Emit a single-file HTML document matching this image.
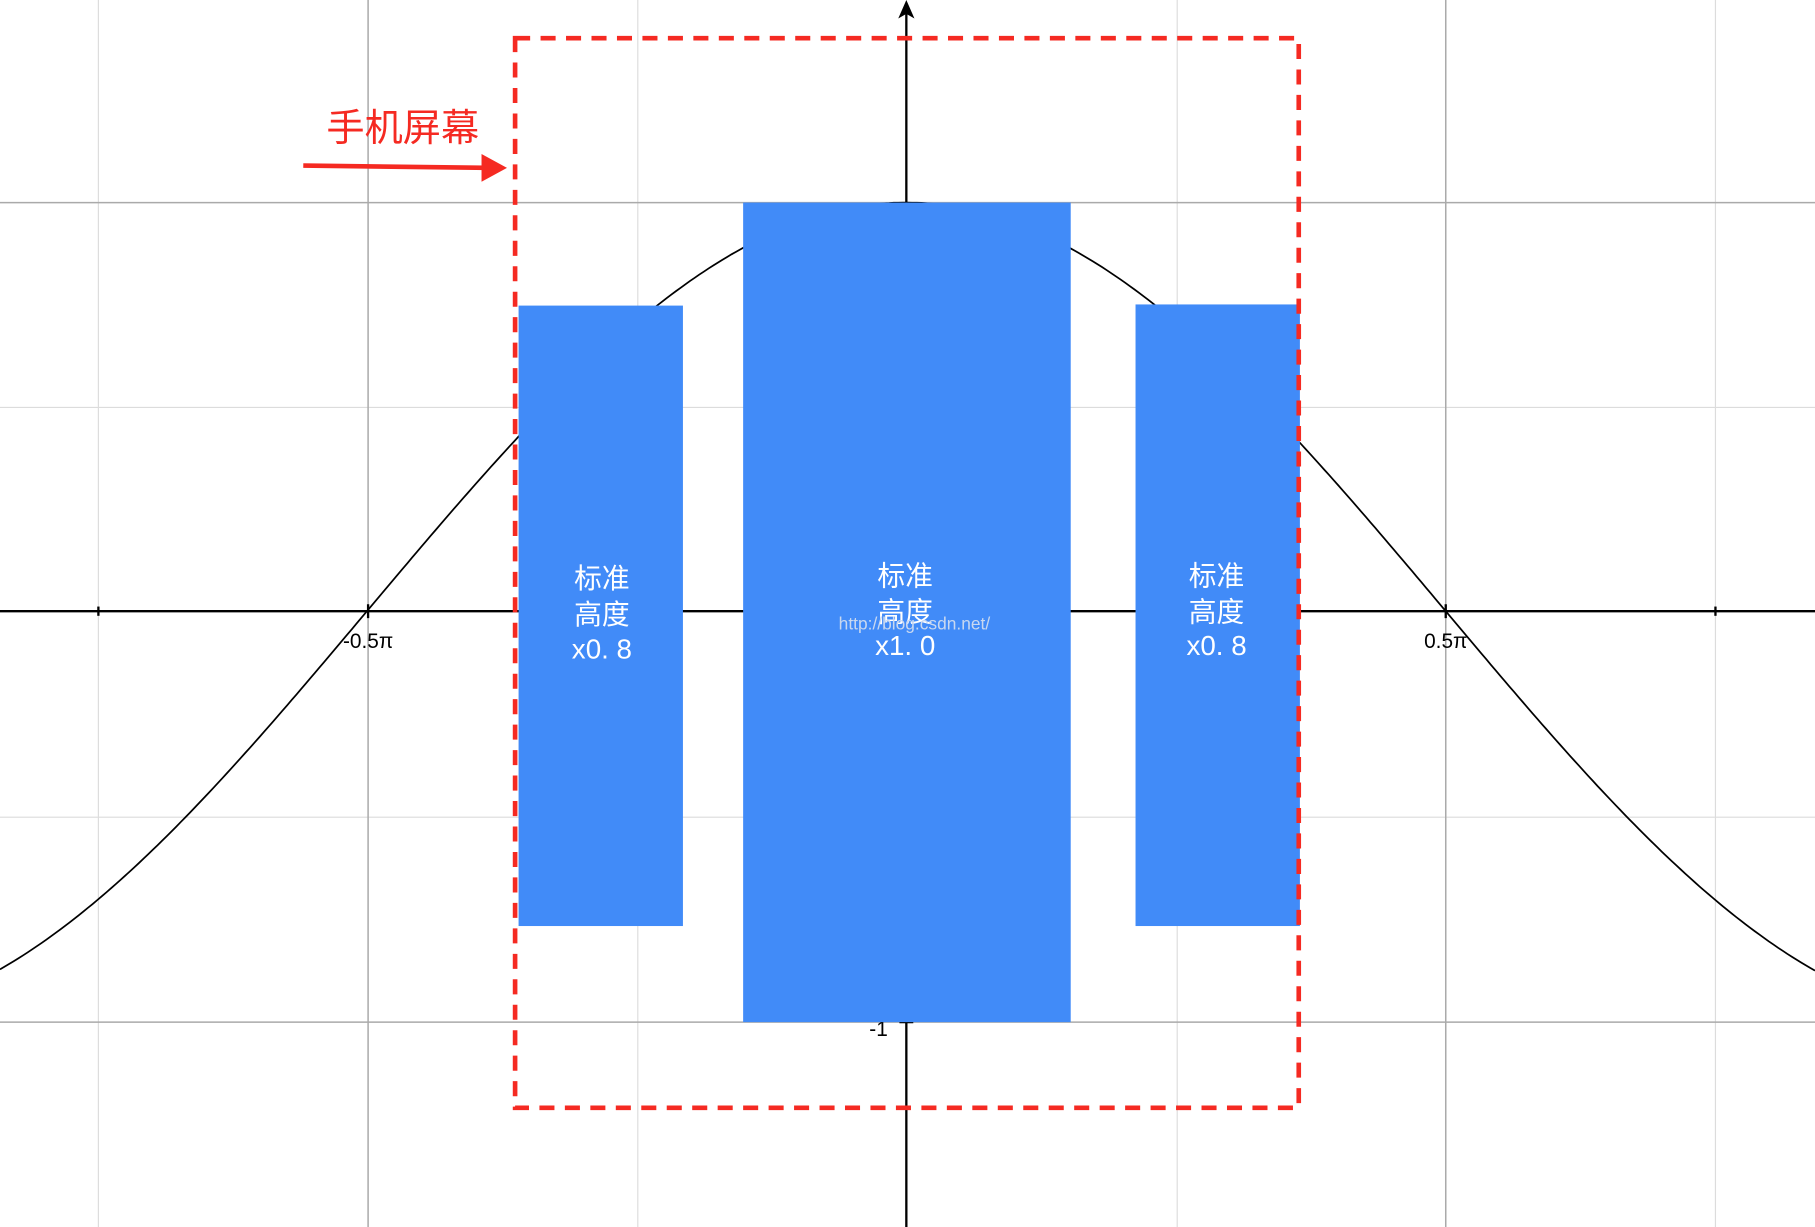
<!DOCTYPE html>
<html><head><meta charset="utf-8"><style>
html,body{margin:0;padding:0;background:#fff;overflow:hidden}
svg{display:block}
text{font-family:"Liberation Sans","Noto Sans CJK SC",sans-serif}
</style></head><body>
<svg width="1815" height="1227" viewBox="0 0 1568 1060" preserveAspectRatio="none" xmlns="http://www.w3.org/2000/svg">
<rect width="1568" height="1060" fill="#fff"/>
<g stroke="#dcdcdc" stroke-width="1">
<line x1="85" y1="0" x2="85" y2="1060"/><line x1="551" y1="0" x2="551" y2="1060"/>
<line x1="1017" y1="0" x2="1017" y2="1060"/><line x1="1482" y1="0" x2="1482" y2="1060"/>
<line x1="0" y1="352" x2="1568" y2="352"/><line x1="0" y1="706" x2="1568" y2="706"/>
</g>
<g stroke="#aaa" stroke-width="1.3">
<line x1="318" y1="0" x2="318" y2="1060"/><line x1="1249" y1="0" x2="1249" y2="1060"/>
<line x1="0" y1="175" x2="1568" y2="175"/><line x1="0" y1="883" x2="1568" y2="883"/>
</g>
<g stroke="#000" stroke-width="2">
<line x1="0" y1="528" x2="1568" y2="528"/>
<line x1="783" y1="6" x2="783" y2="1060"/>
<line x1="85" y1="524" x2="85" y2="532"/><line x1="318" y1="522" x2="318" y2="534"/>
<line x1="1249" y1="522" x2="1249" y2="534"/><line x1="1482" y1="524" x2="1482" y2="532"/>
<line x1="777" y1="883" x2="789" y2="883"/>
</g>
<polygon points="783,0 776,16 783,12 790,16" fill="#000"/>
<path id="c" fill="none" stroke="#000" stroke-width="1.5" d=""/>
<text x="318" y="560" font-size="18" text-anchor="middle">-0.5π</text>
<text x="1249" y="560" font-size="18" text-anchor="middle">0.5π</text>
<text x="767" y="895" font-size="18" text-anchor="end">-1</text>
<g fill="#418bf8">
<rect x="448" y="264" width="142" height="536"/>
<rect x="642" y="175" width="283" height="708"/>
<rect x="981" y="263" width="142" height="537"/>
</g>
<g fill="#fff" font-size="24" text-anchor="middle">
<text x="520" y="508">标准</text><text x="520" y="539">高度</text><text x="520" y="569">x0. 8</text>
<text x="782" y="506">标准</text><text x="782" y="537">高度</text><text x="782" y="566">x1. 0</text>
<text x="1051" y="506">标准</text><text x="1051" y="537">高度</text><text x="1051" y="566">x0. 8</text>
</g>
<text x="790" y="544" font-size="15" fill="#c8d8f0" text-anchor="middle" font-family="Liberation Serif,serif">http://blog.csdn.net/</text>
<rect x="445" y="33" width="677" height="924" fill="none" stroke="#f52a22" stroke-width="4" stroke-dasharray="13,9"/>
<text x="348" y="122" font-size="33" fill="#f52a22" text-anchor="middle">手机屏幕</text>
<line x1="262" y1="143" x2="420" y2="145" stroke="#f52a22" stroke-width="4"/>
<polygon points="416,133 438,145 416,157" fill="#f52a22"/>
</svg>
<script>
var d="";for(var x=0;x<=1568;x+=4){var y=528-353*Math.cos((x-783)/466*Math.PI/2);d+=(x?"L":"M")+x+","+y.toFixed(1);}
document.getElementById("c").setAttribute("d",d);
</script>
</body></html>
